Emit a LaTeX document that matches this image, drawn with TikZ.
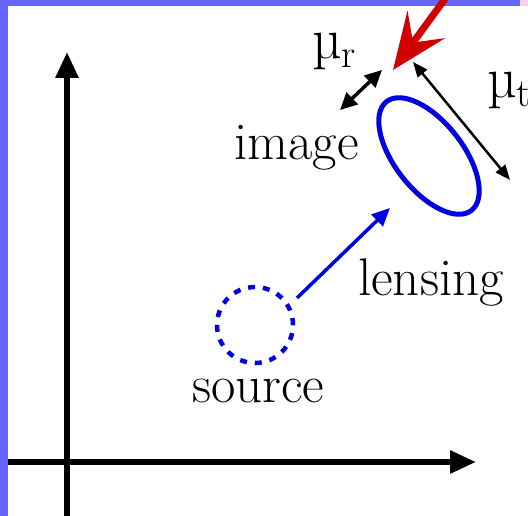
\documentclass[tikz,border=0pt]{standalone}
\usepackage{fontspec}
\usetikzlibrary{arrows.meta, calc, shapes.geometric}
\definecolor{frameblue}{HTML}{6666FF}
\definecolor{framepink}{HTML}{FFCCFF}
\definecolor{lensblue}{HTML}{0000E0}
\definecolor{pointred}{HTML}{D00000}

\begin{document}
\begin{tikzpicture}[
    x=1pt, y=-1pt,
    font=\fontsize{53}{60}\selectfont,
    every node/.style={inner sep=0pt},
    axis/.style={line width=6pt, -{Triangle[length=26pt, width=22pt]}},
    lens/.style={line width=3.5pt, lensblue, -{Triangle[length=18pt, width=16pt]}},
    dimr/.style={line width=3.5pt, {Triangle[length=17pt, width=16pt]}-{Triangle[length=17pt, width=16pt]}},
    dimt/.style={line width=2.5pt, {Triangle[length=15pt, width=12pt]}-{Triangle[length=15pt, width=12pt]}},
    pointer/.style={line width=7pt, pointred, -{Stealth[length=56pt, width=46pt, inset=22pt]}},
    lbl/.style={anchor=base west},
    mulbl/.style={anchor=base west, font=\fontsize{58}{60}\selectfont},
]

% --------- frame ----------
\useasboundingbox (0,0) rectangle (528,516);
\fill[white]      (0,0)   rectangle (528,516);
\fill[frameblue]  (0,0)   rectangle (8,516);
\fill[frameblue]  (0,0)   rectangle (520,6);
\fill[framepink]  (520,0) rectangle (528,6);

% --------- axes ----------
\coordinate (ybot) at (67,516);
\coordinate (ytop) at (67,52);
\coordinate (xlft) at (8,462);
\coordinate (xrgt) at (476,462);
\draw[axis] (ybot) -- (ytop);
\draw[axis] (xlft) -- (xrgt);

% --------- source and image ----------
\node[draw, circle, lensblue, line width=4.5pt, dash pattern=on 7pt off 7.9pt,
      minimum size=76pt] (src) at (255,325) {};
\node[draw, ellipse, lensblue, line width=5pt, minimum width=138pt,
      minimum height=68pt, rotate=-52] (img) at (429,156) {};

\draw[lens] ($(src)+(42,-27)$) -- ($(img)+(-39,52)$);

\node[lbl] (srclbl) at (192,402) {source};
\node[lbl] (imglbl) at (234,160) {image};
\node[lbl] (lenslbl) at (358,295) {lensing};

% --------- magnification directions ----------
\coordinate (mura) at (340,110);
\coordinate (murb) at (382,70);
\draw[dimr] (mura) -- (murb);
\node[mulbl] (murlbl) at (312,59) {µ\raisebox{-9pt}{\fontsize{40}{40}\selectfont r}};

\coordinate (muta) at (413,62);
\coordinate (mutb) at (510,180);
\draw[dimt] (muta) -- (mutb);
\node[mulbl] (mutlbl) at (487,98) {µ\raisebox{-9pt}{\fontsize{40}{40}\selectfont t}};

% --------- pointer ----------
\coordinate (redfrom) at (450,-8);
\coordinate (redtip) at (393,70);
\draw[pointer] (redfrom) -- (redtip);

\end{tikzpicture}
\end{document}
